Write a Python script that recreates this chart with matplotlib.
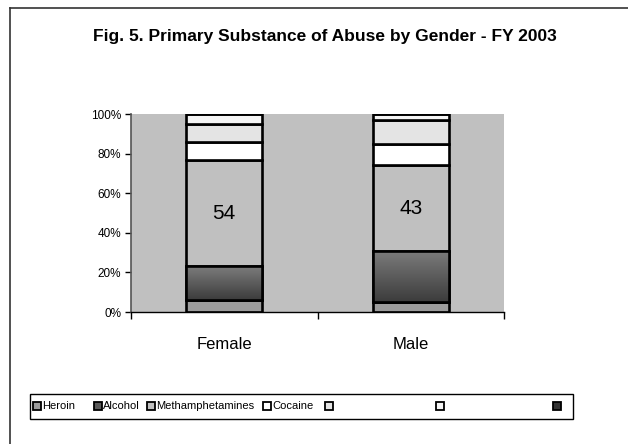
import numpy as np
import matplotlib
matplotlib.use("Agg")
import matplotlib.pyplot as plt
from matplotlib.patches import Rectangle
from matplotlib.lines import Line2D
from matplotlib.ticker import PercentFormatter

plt.rcParams["font.family"] = ["Liberation Sans", "DejaVu Sans"]

# ── Data (percent of admissions) ──────────────────────────────────────────────

genders = ["Female", "Male"]
substances = ["Heroin", "Alcohol", "Methamphetamines", "Cocaine", "", "", ""]
heroin = [6, 5]
alcohol = [17, 26]
meth = [54, 43]
cocaine = [9, 11]
other1 = [9, 12]
other2 = [5, 3]
other3 = [0, 0]
y_ticks = [0, 20, 40, 60, 80, 100]

series = [heroin, alcohol, meth, cocaine, other1, other2, other3]
colors = ["#9c9c9c", "#5a5a5a", "#c0c0c0", "#ffffff", "#e4e4e4", "#f5f5f5", "#333333"]

# ── Figure ────────────────────────────────────────────────────────────────────

W, H = 628, 444
fig = plt.figure(figsize=(W / 100, H / 100), dpi=100)
fig.patch.set_facecolor("white")

def fx(px):
    return px / W

def fy(py):
    return 1 - py / H

ax = fig.add_axes([fx(131), fy(312), fx(504) - fx(131), fy(114) - fy(312)])
ax.set_facecolor("#c0c0c0")

x = np.arange(len(genders))
bw = 0.41
bottom = np.zeros(len(genders))
bar_sets = []
for vals, col in zip(series, colors):
    bars = ax.bar(x, vals, bottom=bottom, width=bw, color=col,
                  edgecolor="black", linewidth=1.9, zorder=2)
    bar_sets.append(bars)
    bottom += np.array(vals)

# gradient fill on the alcohol segments
grad = np.linspace(0, 1, 100).reshape(-1, 1)
cmap = matplotlib.colors.LinearSegmentedColormap.from_list("g", ["#3c3c3c", "#7c7c7c"])
for i, patch in enumerate(bar_sets[1]):
    im = ax.imshow(grad, cmap=cmap, origin="lower", aspect="auto",
                   extent=[x[i] - bw / 2, x[i] + bw / 2, heroin[i], heroin[i] + alcohol[i]],
                   zorder=2.1)
    im.set_clip_path(patch)
ax.bar(x, alcohol, bottom=heroin, width=bw, fill=False,
       edgecolor="black", linewidth=1.9, zorder=2.2)

# value labels in the methamphetamine segment
for i in range(len(genders)):
    mid = heroin[i] + alcohol[i] + meth[i] / 2
    ax.text(x[i], mid, str(meth[i]), ha="center", va="center", fontsize=15, zorder=3)

ax.set_xlim(-0.5, len(genders) - 0.5)
ax.set_ylim(0, 100)
ax.set_yticks(y_ticks)
ax.yaxis.set_major_formatter(PercentFormatter(decimals=0))
ax.tick_params(axis="y", length=4, width=1, pad=3, labelsize=8.5)

ax.set_xticks(x)
ax.set_xticklabels(genders, fontsize=12)
ax.set_xticks([-0.5, 0.5, 1.5], minor=True)
ax.tick_params(axis="x", which="major", length=0, pad=18)
ax.tick_params(axis="x", which="minor", length=5, width=1)

for s in ["top", "right"]:
    ax.spines[s].set_visible(False)
ax.spines["left"].set_color("#555555")
ax.spines["left"].set_linewidth(1.2)
ax.spines["bottom"].set_linewidth(1.0)

# ── Title ─────────────────────────────────────────────────────────────────────

fig.text(fx(325), fy(36), "Fig. 5. Primary Substance of Abuse by Gender - FY 2003",
         ha="center", va="center", fontsize=12.5, fontweight="bold")

# ── Outer frame (cropped at right and bottom) ─────────────────────────────────

fig.add_artist(Line2D([fx(10), fx(10)], [fy(8), 0], color="#333333", lw=1.2))
fig.add_artist(Line2D([fx(10), 1], [fy(8), fy(8)], color="#333333", lw=1.2))

# ── Legend ────────────────────────────────────────────────────────────────────

fig.add_artist(Rectangle((fx(30), fy(419)), fx(573) - fx(30), fy(394) - fy(419),
                         transform=fig.transFigure, facecolor="white",
                         edgecolor="black", lw=1.0))
marker_x = [37, 98, 151, 267, 329, 440, 557]
ms = 8
for mxp, lab, col in zip(marker_x, substances, colors):
    fig.add_artist(Rectangle((fx(mxp - ms / 2), fy(406 + ms / 2)), fx(ms), ms / H,
                             transform=fig.transFigure, facecolor=col,
                             edgecolor="black", lw=1.3))
    if lab:
        fig.text(fx(mxp + ms / 2 + 1), fy(406), lab, ha="left", va="center", fontsize=8)

fig.savefig("out.png", dpi=100)
